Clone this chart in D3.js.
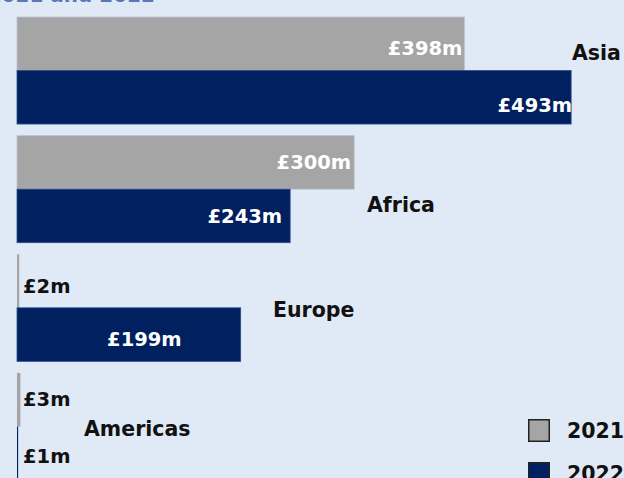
<!DOCTYPE html>
<html>
<head>
<meta charset="utf-8">
<script src="https://cdn.jsdelivr.net/npm/d3@7"></script>
<style>
  html, body { margin: 0; padding: 0; background: #e0eaf6; overflow: hidden; }
  svg { display: block; }
</style>
</head>
<body>
<svg id="chart" width="624" height="478"></svg>
<script>
// ---- data ----
const categories = ["Asia", "Africa", "Europe", "Americas"];
const years = ["2021", "2022"];
const values2021 = [398, 300, 2, 3];
const values2022 = [493, 243, 199, 1];
const titleText = "Bilateral spend by region, 2021 and 2022";

// ---- layout / style ----
const W = 624, H = 478;
const colors = { "2021": "#a5a5a5", "2022": "#002060" };
const strokes = { "2021": "#b9c3d2", "2022": "#2d4c8c" };
const FONT = "'DejaVu Sans', Arial, sans-serif";

const svg = d3.select("#chart");
svg.append("rect").attr("width", W).attr("height", H).attr("fill", "#e0eaf6");

// title (mostly cut off at top, as in the reference)
svg.append("text")
  .attr("x", 155).attr("y", 2)
  .attr("text-anchor", "end")
  .attr("font-family", FONT).attr("font-weight", "bold").attr("font-size", 20)
  .attr("fill", "#5a78b8")
  .text(titleText);

const y = d3.scaleBand().domain(categories).range([17, 480]).paddingInner(0.098).paddingOuter(0);
const ySub = d3.scaleBand().domain(years).range([0, y.bandwidth()]).padding(0);
const x = d3.scaleLinear().domain([0, 500]).range([17, 579]);

const rows = [];
categories.forEach((c, i) => {
  rows.push({ cat: c, year: "2021", v: values2021[i] });
  rows.push({ cat: c, year: "2022", v: values2022[i] });
});

svg.selectAll("rect.bar").data(rows).enter().append("rect")
  .attr("class", "bar")
  .attr("x", x(0))
  .attr("y", d => y(d.cat) + ySub(d.year))
  .attr("width", d => x(d.v) - x(0))
  .attr("height", ySub.bandwidth())
  .attr("fill", d => colors[d.year])
  .attr("stroke", d => d.v > 10 ? strokes[d.year] : "none")
  .attr("stroke-width", 0.8);

// value labels
const labelNudge = {
  "Asia-2021": { dx: -2, dy: 4 },
  "Asia-2022": { dx: 1, dy: 7.5 },
  "Africa-2021": { dx: -3, dy: 0 },
  "Africa-2022": { dx: -8, dy: 0 },
  "Europe-2021": { dx: 6, dy: 5 },
  "Europe-2022": { dx: -59, dy: 4 },
  "Americas-2021": { dx: 6, dy: -1 },
  "Americas-2022": { dx: 6, dy: 3 }
};
svg.selectAll("text.val").data(rows).enter().append("text")
  .attr("class", "val")
  .attr("font-family", FONT).attr("font-weight", "bold").attr("font-size", 19.5)
  .attr("text-anchor", d => d.v > 50 ? "end" : "start")
  .attr("fill", d => d.v > 50 ? "#ffffff" : "#111111")
  .attr("x", d => (d.v > 50 ? x(d.v) : x(0)) + labelNudge[d.cat + "-" + d.year].dx)
  .attr("y", d => y(d.cat) + ySub(d.year) + ySub.bandwidth() / 2 + labelNudge[d.cat + "-" + d.year].dy)
  .attr("dy", "0.36em")
  .text(d => "£" + d.v + "m");

// category labels
const catLabelPos = {
  Asia: { x: 572, dy: 35.5 },
  Africa: { x: 367, dy: 68.5 },
  Europe: { x: 273, dy: 55.5 },
  Americas: { x: 84, dy: 56 }
};
svg.selectAll("text.cat").data(categories).enter().append("text")
  .attr("class", "cat")
  .attr("font-family", FONT).attr("font-weight", "bold").attr("font-size", 20.5)
  .attr("fill", "#111111")
  .attr("x", d => catLabelPos[d].x)
  .attr("y", d => y(d) + catLabelPos[d].dy)
  .attr("dy", "0.36em")
  .text(d => d);

// legend
const legend = svg.append("g").attr("transform", "translate(528,419)");
years.forEach((yr, i) => {
  const g = legend.append("g").attr("transform", `translate(0,${i * 43})`);
  g.append("rect").attr("x", 0.75).attr("y", 0.75).attr("width", 20.5).attr("height", 21.5)
    .attr("fill", colors[yr]).attr("stroke", "#222").attr("stroke-width", 1.5);
  g.append("text").attr("x", 39).attr("y", 11.5).attr("dy", "0.36em")
    .attr("font-family", FONT).attr("font-weight", "bold").attr("font-size", 20.5)
    .attr("fill", "#111").text(yr);
});
</script>
</body>
</html>
